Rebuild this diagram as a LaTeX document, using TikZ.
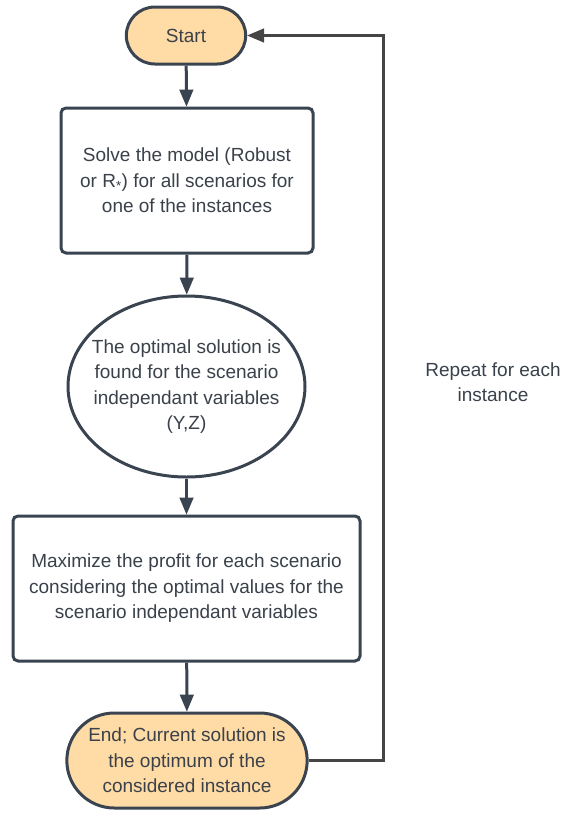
\documentclass[tikz,border=0pt]{standalone}
\usepackage{fontspec}
\setmainfont{Liberation Sans}
\usepackage{tikz}
\usetikzlibrary{arrows,positioning,shapes.geometric,shapes.misc}
\definecolor{ink}{HTML}{3A4450}
\definecolor{txt}{HTML}{3A414A}
\definecolor{peach}{HTML}{FFDBA5}
\definecolor{loopgray}{HTML}{454545}

\begin{document}
\begin{tikzpicture}[x=1pt,y=-1pt]
					\tikzstyle{every node}=[font=\fontsize{19}{25.5}\selectfont,text=txt,align=center]
					\tikzstyle{terminal}=[rounded rectangle,draw=ink,fill=peach,line width=3pt]
					\tikzstyle{process}=[rectangle,rounded corners=5pt,draw=ink,fill=white,line width=3pt]
					\tikzstyle{decision}=[ellipse,draw=ink,fill=white,line width=3pt,inner xsep=-12pt,inner ysep=0pt]
					\tikzstyle{flow}=[draw=ink,line width=3pt,-triangle 45]
					\useasboundingbox (0,0) rectangle (565,814);
					\node[terminal,minimum width=126pt,minimum height=57pt] (start) at (186,35.5) {Start};
					\node[process,minimum width=252pt,minimum height=145pt] (solve) at (187,180.5) {Solve the model (Robust\\or R\textsubscript{*}) for all scenarios for\\one of the instances};
					\node[decision,minimum width=237pt,minimum height=181pt] (found) at (186.5,386.5) {The optimal solution is\\found for the scenario\\independant variables\\(Y,Z)};
					\node[process,minimum width=347pt,minimum height=145pt] (maxim) at (186.5,588.5) {Maximize the profit for each scenario\\considering the optimal values for the\\scenario independant variables};
					\node[terminal,minimum width=247pt,minimum height=95pt] (stop) at (187,760.5) {End; Current solution is\\the optimum of the\\considered instance};
					\node (repeat) at (493,382) {Repeat for each\\instance};
					\coordinate (turn) at (383,0);
					\draw[flow] (start) -- (solve);
					\draw[flow] (solve) -- (found);
					\draw[flow] (found) -- (maxim);
					\draw[flow] (maxim) -- (stop);
					\draw[flow,draw=loopgray] (stop.east) -| (turn |- start.east) -- (start.east);
\end{tikzpicture}
\end{document}
